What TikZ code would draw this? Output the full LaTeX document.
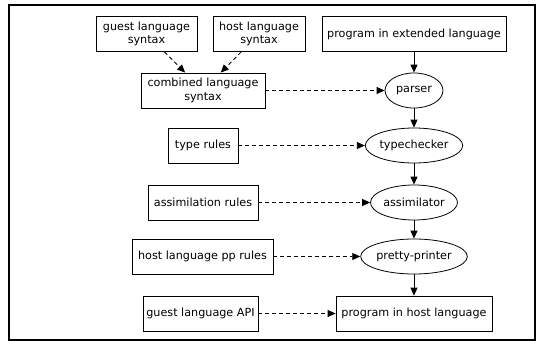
\documentclass[tikz,border=0pt]{standalone}
\usepackage{fontspec}
\setmainfont{DejaVu Sans}
\usetikzlibrary{shapes.geometric,arrows.meta}
\begin{document}
\begin{tikzpicture}[x=1pt,y=-1pt,
  font=\fontsize{11.2}{13.5}\selectfont,
  box/.style={draw, line width=0.8pt, rectangle, minimum height=35pt, inner sep=0pt, align=center},
  proc/.style={draw, line width=0.8pt, ellipse, minimum height=35pt, inner sep=0pt},
  flow/.style={-{Triangle[length=8pt,width=7pt]}, line width=0.8pt},
  feed/.style={flow, dash pattern=on 4pt off 3pt}]
\useasboundingbox (0,0) rectangle (538,343);
\draw[line width=2.5pt] (9,5) rectangle (535,340);

% inputs on the left
\node[box, minimum width=101pt] (gs) at (146.5,34) {guest language\\syntax};
\node[box, minimum width=92pt]  (hs) at (259,34)   {host language\\syntax};
\node[box, minimum width=124pt] (cs) at (203,90.5) {combined language\\syntax};
\node[box, minimum width=70pt]  (tr) at (203,145.5) {type rules};
\node[box, minimum width=110pt] (ar) at (203,202.5) {assimilation rules};
\node[box, minimum width=141pt] (pp) at (202.5,256.5) {host language pp rules};
\node[box, minimum width=115pt] (ga) at (200.5,313.5) {guest language API};

% pipeline on the right
\node[box, minimum width=184pt] (pe) at (414,34) {program in extended language};
\node[proc, minimum width=58pt] (pa) at (414,90.5) {parser};
\node[proc, minimum width=90pt] (tc) at (414,145.5) {typechecker};
\node[proc, minimum width=86pt] (as) at (414,202.5) {assimilator};
\node[proc, minimum width=98pt] (pr) at (414,256.5) {pretty-printer};
\node[box, minimum width=156pt] (ph) at (414,313.5) {program in host language};

% solid pipeline arrows
\draw[flow] (pe) -- (pa);
\draw[flow] (pa) -- (tc);
\draw[flow] (tc) -- (as);
\draw[flow] (as) -- (pr);
\draw[flow] (pr) -- (ph);

% dashed feeds
\draw[feed] (gs) -- (cs);
\draw[feed] (hs) -- (cs);
\draw[feed] (cs) -- (pa);
\draw[feed] (tr) -- (tc);
\draw[feed] (ar) -- (as);
\draw[feed] (pp) -- (pr);
\draw[feed] (ga) -- (ph);
\end{tikzpicture}
\end{document}
